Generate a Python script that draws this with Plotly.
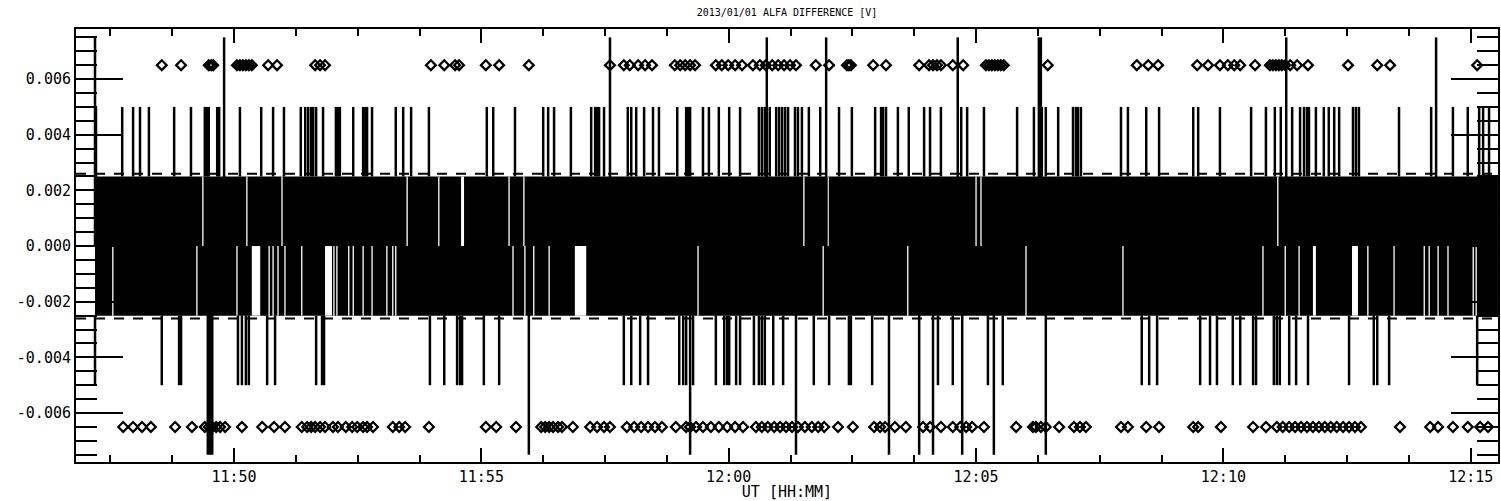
import plotly.graph_objects as go
import pandas as pd

# ---------------- data (times in minutes after 11:00 UT, 2013-01-01) ----------------
BASE = pd.Timestamp("2013-01-01 11:00:00")

title_text = "2013/01/01 ALFA DIFFERENCE [V]"
x_title = "UT [HH:MM]"
x_range_min = [46.806, 75.551]
y_range = [-0.00776, 0.0078]
x_tick_min = [50, 55, 60, 65, 70, 75]
x_tick_text = ["11:50", "11:55", "12:00", "12:05", "12:10", "12:15"]
y_tick_vals = [-0.006, -0.004, -0.002, 0.0, 0.002, 0.004, 0.006]
y_tick_text = ["-0.006", "-0.004", "-0.002", "0.000", "0.002", "0.004", "0.006"]

band_span = [47.19, 75.55]
band_level = 0.0025
threshold = 0.0026
spike_mid = 0.005
spike_big = 0.0075
marker_level = 0.0065

spike_up_mid = [47.21, 47.74, 47.96, 48.10, 48.28, 48.79, 49.13, 49.41, 49.45, 49.49, 49.66, 49.70,
                50.12, 50.55, 50.79, 51.01, 51.35, 51.44, 51.50, 51.56, 51.60, 51.66, 51.80, 52.06,
                52.10, 52.14, 52.41, 52.61, 52.65, 52.69, 52.79, 53.27, 53.42, 53.58, 53.94, 55.11,
                55.24, 55.68, 56.25, 56.35, 56.47, 56.81, 57.22, 57.30, 57.34, 57.38, 57.48, 57.96,
                58.03, 58.13, 58.29, 58.47, 58.59, 58.96, 59.14, 59.18, 59.22, 59.48, 59.60, 59.80,
                60.01, 60.23, 60.61, 60.67, 60.73, 60.83, 60.96, 61.02, 61.08, 61.14, 61.20, 61.34,
                61.40, 61.48, 61.62, 61.85, 62.23, 62.49, 62.96, 63.08, 63.12, 63.18, 63.42, 63.64,
                63.95, 64.07, 64.29, 64.70, 64.82, 65.16, 65.83, 66.17, 66.33, 66.41, 66.66, 66.96,
                67.02, 67.06, 67.12, 67.93, 68.07, 68.44, 68.70, 69.39, 69.49, 69.93, 70.56, 70.86,
                71.04, 71.16, 71.39, 71.55, 71.63, 71.69, 71.73, 71.87, 72.03, 72.13, 72.24, 72.34,
                72.62, 72.68, 72.74, 73.55, 74.20, 74.64, 74.94, 75.17, 75.25, 75.37]
spike_up_big = [47.19, 49.80, 57.60, 60.77, 61.97, 64.63, 66.27, 66.31, 71.27, 74.30]
spike_dn_mid = [47.19, 48.54, 48.89, 48.93, 50.08, 50.16, 50.24, 50.30, 50.67, 50.83, 51.66, 51.78,
                51.82, 53.96, 54.25, 54.51, 54.57, 54.61, 55.05, 55.36, 57.88, 58.03, 58.21, 58.37,
                59.00, 59.08, 59.14, 59.28, 59.74, 59.91, 59.97, 60.01, 60.15, 60.23, 60.51, 60.61,
                60.67, 60.73, 60.90, 61.10, 61.72, 62.03, 62.43, 62.47, 62.90, 64.23, 64.53, 65.24,
                65.54, 68.35, 68.50, 68.66, 69.53, 69.73, 69.87, 70.19, 70.34, 70.60, 70.66, 71.02,
                71.08, 71.14, 71.33, 71.47, 71.71, 72.54, 73.04, 73.11, 73.35, 75.13]
spike_dn_big = [49.47, 49.51, 49.56, 55.96, 59.22, 61.36, 63.24, 63.85, 64.13, 64.72, 65.36, 66.41]

gap_upper = [49.37, 50.26, 50.97, 53.50, 54.14, 55.56, 55.86, 61.52, 62.01, 65.00, 65.10, 71.10]
gap_upper_wide = [[54.59, 54.65]]
gap_lower = [47.55, 49.25, 50.06, 50.71, 50.79, 50.89, 51.03, 51.37, 52.02, 52.08, 52.32, 52.41,
             52.61, 52.79, 53.09, 53.21, 53.27, 55.64, 55.88, 56.06, 56.37, 59.38, 61.91, 63.62,
             66.01, 67.97, 70.80, 71.25, 71.53, 72.92, 73.45, 74.06, 74.16, 74.34, 74.54, 75.05,
             75.11]
gap_lower_wide = [[50.36, 50.53], [51.84, 51.98], [56.89, 57.12], [71.81, 71.87], [72.60, 72.72]]

diam_top = [48.54, 48.93, 49.49, 49.54, 49.58, 50.06, 50.12, 50.18, 50.24, 50.30, 50.36, 50.69,
            50.87, 51.64, 51.74, 51.84, 53.98, 54.25, 54.47, 54.55, 55.09, 55.36, 55.96, 57.60,
            57.88, 58.00, 58.17, 58.31, 58.45, 58.91, 59.02, 59.12, 59.22, 59.32, 59.74, 59.86,
            59.99, 60.13, 60.27, 60.49, 60.63, 60.75, 60.88, 61.00, 61.12, 61.24, 61.36, 61.76,
            62.03, 62.39, 62.43, 62.47, 62.92, 63.18, 63.85, 64.05, 64.13, 64.21, 64.29, 64.53,
            64.74, 65.20, 65.26, 65.32, 65.38, 65.44, 65.50, 65.56, 66.45, 68.25, 68.48, 68.68,
            69.47, 69.69, 69.93, 70.09, 70.22, 70.34, 70.64, 70.94, 71.00, 71.06, 71.12, 71.18,
            71.25, 71.35, 71.49, 71.71, 72.52, 73.11, 73.37, 75.13]
diam_bot = [47.76, 47.96, 48.14, 48.32, 48.81, 49.15, 49.41, 49.49, 49.56, 49.64, 49.72, 49.82,
            50.16, 50.57, 50.81, 51.03, 51.37, 51.48, 51.56, 51.64, 51.74, 51.84, 52.00, 52.10,
            52.26, 52.39, 52.49, 52.61, 52.69, 52.81, 53.21, 53.34, 53.46, 53.94, 55.09, 55.30,
            55.70, 56.21, 56.29, 56.37, 56.45, 56.55, 56.63, 56.85, 57.20, 57.34, 57.48, 57.60,
            57.94, 58.09, 58.23, 58.37, 58.51, 58.65, 58.93, 59.14, 59.22, 59.34, 59.48, 59.64,
            59.80, 59.97, 60.13, 60.29, 60.55, 60.67, 60.79, 60.92, 61.04, 61.16, 61.28, 61.40,
            61.54, 61.68, 61.81, 61.93, 62.21, 62.51, 62.94, 63.06, 63.16, 63.36, 63.58, 63.93,
            64.07, 64.29, 64.53, 64.68, 64.80, 64.92, 65.16, 65.81, 66.15, 66.21, 66.31, 66.41,
            66.68, 66.98, 67.10, 67.22, 67.93, 68.07, 68.44, 68.70, 69.39, 69.49, 69.95, 70.60,
            70.86, 71.08, 71.20, 71.33, 71.45, 71.57, 71.69, 71.81, 71.93, 72.05, 72.17, 72.29,
            72.42, 72.54, 72.66, 72.78, 73.57, 74.18, 74.34, 74.64, 74.94, 75.19, 75.35]

# ---------------- helpers ----------------
def t(m):
    return BASE + pd.Timedelta(minutes=m)


def vlines(times, y0, y1):
    xs, ys = [], []
    for m in times:
        xs += [t(m), t(m), None]
        ys += [y0, y1, None]
    return xs, ys


def rect(m0, m1, y0, y1):
    return [t(m0), t(m1), t(m1), t(m0), t(m0)], [y0, y0, y1, y1, y0]


fig = go.Figure()

# black band (upper and lower halves)
for y0, y1 in [(0, band_level), (-band_level, 0)]:
    xs, ys = rect(band_span[0], band_span[1], y0, y1)
    fig.add_trace(go.Scatter(x=xs, y=ys, mode="lines", fill="toself", fillcolor="black",
                             line=dict(width=0, color="black"), hoverinfo="skip"))

# white gaps in the band
xs, ys = vlines(gap_upper, 0, band_level)
fig.add_trace(go.Scatter(x=xs, y=ys, mode="lines", line=dict(color="white", width=1.3),
                         hoverinfo="skip"))
xs, ys = vlines(gap_lower, -band_level, 0)
fig.add_trace(go.Scatter(x=xs, y=ys, mode="lines", line=dict(color="white", width=1.3),
                         hoverinfo="skip"))
for a, b in gap_upper_wide:
    xs, ys = rect(a, b, 0, band_level)
    fig.add_trace(go.Scatter(x=xs, y=ys, mode="lines", fill="toself", fillcolor="white",
                             line=dict(width=0, color="white"), hoverinfo="skip"))
for a, b in gap_lower_wide:
    xs, ys = rect(a, b, -band_level, 0)
    fig.add_trace(go.Scatter(x=xs, y=ys, mode="lines", fill="toself", fillcolor="white",
                             line=dict(width=0, color="white"), hoverinfo="skip"))

# dashed threshold lines
for lev in (threshold, -threshold):
    fig.add_trace(go.Scatter(x=[t(x_range_min[0]), t(x_range_min[1])], y=[lev, lev],
                             mode="lines", line=dict(color="black", width=2, dash="10px,9px"),
                             hoverinfo="skip"))

# spikes
for times, y0, y1 in [(spike_up_mid, band_level, spike_mid),
                      (spike_dn_mid, -band_level, -spike_mid),
                      (spike_up_big, 0, spike_big),
                      (spike_dn_big, 0, -spike_big)]:
    xs, ys = vlines(times, y0, y1)
    fig.add_trace(go.Scatter(x=xs, y=ys, mode="lines", line=dict(color="black", width=2.5),
                             hoverinfo="skip"))

# diamonds
for times, lev in [(diam_top, marker_level), (diam_bot, -marker_level)]:
    fig.add_trace(go.Scatter(x=[t(m) for m in times], y=[lev] * len(times), mode="markers",
                             marker=dict(symbol="diamond-open", size=7.5, color="black",
                                         line=dict(width=2.3, color="black")),
                             hoverinfo="skip"))

font = "DejaVu Sans Mono"
fig.update_layout(
    width=1501, height=501,
    margin=dict(l=76, r=3, t=29, b=39),
    paper_bgcolor="white", plot_bgcolor="white",
    showlegend=False,
    font=dict(family=font, size=15, color="black"),
    title=dict(text=title_text, x=0.5, xref="paper", xanchor="center",
               y=1 - 12 / 501, yref="container", yanchor="middle",
               font=dict(family=font, size=10, color="black")),
)
fig.update_xaxes(
    type="date",
    range=[t(x_range_min[0]), t(x_range_min[1])],
    tickmode="array", tickvals=[t(m) for m in x_tick_min], ticktext=x_tick_text,
    ticks="inside", ticklen=14, tickwidth=2, tickcolor="black",
    minor=dict(ticks="inside", ticklen=7, tickwidth=2, tickcolor="black",
               dtick=75000, tick0=t(50), showgrid=False),
    showline=True, linewidth=2, linecolor="black", mirror="ticks",
    showgrid=False, zeroline=False,
    tickfont=dict(family=font, size=15),
    title=dict(text=x_title, standoff=2, font=dict(family=font, size=15)),
    automargin=False,
)
fig.update_yaxes(
    range=y_range,
    tickmode="array", tickvals=y_tick_vals, ticktext=y_tick_text,
    ticks="inside", ticklen=47, tickwidth=2, tickcolor="black",
    minor=dict(ticks="inside", ticklen=21, tickwidth=2, tickcolor="black",
               dtick=0.0005, tick0=0, showgrid=False),
    showline=True, linewidth=2, linecolor="black", mirror="ticks",
    showgrid=False, zeroline=False,
    tickfont=dict(family=font, size=15),
    automargin=False,
)

fig.write_html("out.html")
